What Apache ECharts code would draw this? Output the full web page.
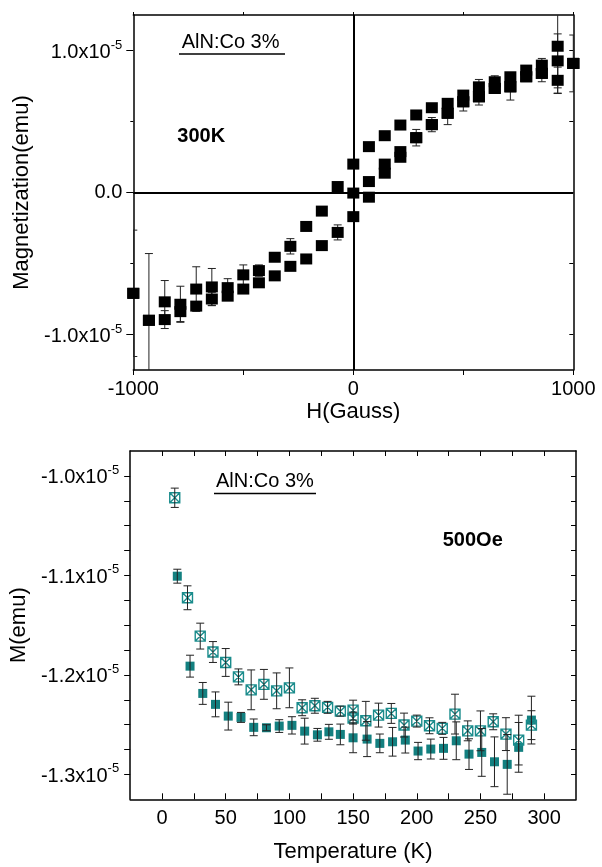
<!DOCTYPE html>
<html>
<head>
<meta charset="utf-8">
<script src="https://cdn.jsdelivr.net/npm/echarts@6/dist/echarts.min.js"></script>
<style>
  html, body { margin: 0; padding: 0; background: #fff; }
  #main { width: 602px; height: 867px; }
</style>
</head>
<body>
<div id="main"></div>
<script>
// magnetization values are in units of 1e-5 emu

// top panel: hysteresis at 300K
var fieldH = [-1000, -929, -857, -786, -714, -643, -571, -500, -429, -357, -286, -214, -143, -71, 0,
  71, 143, 214, 286, 357, 429, 500, 571, 643, 714, 786, 857, 929, 1000];
var mDown = [-0.71, -0.90, -0.77, -0.787, -0.68, -0.665, -0.67, -0.58, -0.55, -0.456, -0.379, -0.239, -0.131, 0.042, 0.20,
  0.323, 0.40, 0.475, 0.546, 0.597, 0.628, 0.686, 0.744, 0.78, 0.815, 0.862, 0.897, 1.03, 0.909];
var errDown = [0.445, 0.47, 0.15, 0.127, 0.157, 0.13, 0.063, 0.07, 0.04, 0, 0.054, 0, 0, 0, 0,
  0, 0, 0, 0, 0, 0, 0, 0.052, 0.042, 0, 0, 0.047, 0.33, 0.2];
var mUp = [-0.71, -0.90, -0.895, -0.839, -0.80, -0.75, -0.73, -0.68, -0.636, -0.587, -0.52, -0.468, -0.374, -0.281, -0.17,
  -0.033, 0.136, 0.248, 0.386, 0.478, 0.558, 0.639, 0.674, 0.733, 0.744, 0.815, 0.839, 0.79, 0.909];
var errUp = [0, 0, 0.063, 0.07, 0, 0.047, 0, 0, 0, 0, 0, 0, 0, 0.053, 0,
  0, 0, 0, 0.058, 0.05, 0.08, 0.065, 0.058, 0, 0.093, 0, 0.059, 0.093, 0];
var fieldInit = [0, 71, 143, 214, 286, 357, 429, 500, 571, 643, 714, 786, 857, 929, 1000];
var mInit = [-0.004, 0.077, 0.20, 0.288, 0.386, 0.478, 0.558, 0.639, 0.674, 0.733, 0.744, 0.815, 0.839, 0.927, 0.909];
var errInit = [0, 0, 0, 0, 0, 0, 0, 0, 0, 0, 0, 0, 0, 0.19, 0];

var hTicks = [-1000, -500, 0, 500, 1000];
var hLabels = [-1000, 0, 1000];
var mTicks = [-1, 0, 1];
var mMinorTicks = [-0.5, 0.5];

// bottom panel: M(T) at 500 Oe
var tSquare = [12, 22, 32, 42, 52, 62, 72, 82, 92, 102, 112, 122, 131, 140, 150, 161, 171, 181, 191, 201,
  211, 221, 231, 241, 251, 261, 271, 280, 290];
var mSquare = [-1.1008, -1.1912, -1.2186, -1.2296, -1.2414, -1.2427, -1.2527, -1.2531, -1.2514, -1.2507,
  -1.2565, -1.2602, -1.2572, -1.2598, -1.2632, -1.2645, -1.2688, -1.2672, -1.2655, -1.2765,
  -1.2745, -1.2738, -1.2662, -1.2796, -1.2779, -1.2873, -1.2899, -1.2728, -1.2454];
var errSquare = [0.007, 0.011, 0.011, 0.0125, 0.014, 0.005, 0.0084, 0.003, 0.0064, 0.0087,
  0.013, 0.0064, 0.0075, 0.0104, 0.015, 0.0176, 0.0094, 0.0144, 0.013, 0.0087,
  0.01, 0.011, 0.019, 0.0154, 0.024, 0.025, 0.030, 0.025, 0.024];
var tCross = [10, 20, 30, 40, 50, 60, 70, 80, 90, 100, 110, 120, 130, 140, 150, 150, 160, 170, 180, 190,
  200, 210, 220, 230, 240, 250, 260, 270, 280, 290];
var mCross = [-1.022, -1.1225, -1.161, -1.177, -1.1875, -1.202, -1.215, -1.2095, -1.216, -1.213,
  -1.233, -1.231, -1.2326, -1.2364, -1.2354, -1.2434, -1.2461, -1.2404, -1.2387, -1.2504,
  -1.2464, -1.2511, -1.2537, -1.2394, -1.2562, -1.2562, -1.2471, -1.2595, -1.2655, -1.2505];
var errCross = [0.0097, 0.012, 0.013, 0.0105, 0.014, 0.008, 0.02, 0.015, 0.018, 0.02,
  0.008, 0.0075, 0.006, 0.005, 0.01, 0.006, 0.0195, 0.012, 0.01, 0.012,
  0.006, 0.008, 0.006, 0.02, 0.01, 0.02, 0.008, 0.0165, 0.025, 0.0145];

var tTicks = [0, 25, 50, 75, 100, 125, 150, 175, 200, 225, 250, 275, 300];
var tLabels = [0, 50, 100, 150, 200, 250, 300];
var mtTicks = [-1.3, -1.275, -1.25, -1.225, -1.2, -1.175, -1.15, -1.125, -1.1, -1.075, -1.05, -1.025, -1.0];
var mtLabels = [-1.3, -1.2, -1.1, -1.0];

var FONT = "'Liberation Sans', Arial, sans-serif";
var TEAL = '#138080';
var CROSS = 'path://M0,0L10,10M10,0L0,10M0,0L10,0L10,10L0,10Z';

function zip(xs, ys, es) {
  return xs.map(function (x, i) { return es ? [x, ys[i], es[i]] : [x, ys[i]]; });
}

function plain(v) { return String(v); }

function sciLabel(v) {
  if (Math.abs(v) < 1e-9) return '0.0';
  return '{m|' + v.toFixed(1) + 'x10}{s|-5}';
}
var sciRich = {
  m: { fontSize: 20, lineHeight: 24, verticalAlign: 'bottom', color: '#000', fontFamily: FONT },
  s: { fontSize: 13, lineHeight: 13, verticalAlign: 'top', color: '#000', fontFamily: FONT }
};

function errRender(color) {
  return function (params, api) {
    var x = api.value(0), y = api.value(1), e = api.value(2);
    if (!e) return null;
    var a = api.coord([x, y + e]), b = api.coord([x, y - e]);
    var w = 4;
    var st = { stroke: color, lineWidth: 1 };
    return {
      type: 'group',
      children: [
        { type: 'line', shape: { x1: a[0], y1: a[1], x2: b[0], y2: b[1] }, style: st },
        { type: 'line', shape: { x1: a[0] - w, y1: a[1], x2: a[0] + w, y2: a[1] }, style: st },
        { type: 'line', shape: { x1: b[0] - w, y1: b[1], x2: b[0] + w, y2: b[1] }, style: st }
      ]
    };
  };
}

function frame(show) {
  return { show: show, onZero: false, lineStyle: { color: '#000', width: 1.5 } };
}

var chart = echarts.init(document.getElementById('main'), null, { renderer: 'canvas' });

var option = {
  animation: false,
  backgroundColor: '#fff',
  textStyle: { fontFamily: FONT, color: '#000' },
  grid: [
    { left: 133.3, top: 15, width: 440, height: 355 },
    { left: 129.3, top: 451, width: 446.7, height: 348.3 }
  ],
  xAxis: [
    {
      gridIndex: 0, type: 'value', min: -1000, max: 1000, position: 'bottom',
      axisLine: frame(true),
      axisTick: { show: true, customValues: hTicks, length: 5, lineStyle: { color: '#000' } },
      axisLabel: { customValues: hLabels, formatter: plain, fontSize: 20, margin: 9, color: '#000' },
      splitLine: { show: false },
      name: 'H(Gauss)', nameLocation: 'middle', nameGap: 31,
      nameTextStyle: { fontSize: 22, color: '#000' }
    },
    {
      gridIndex: 0, type: 'value', min: -1000, max: 1000, position: 'top',
      axisLine: frame(true),
      axisTick: { show: true, customValues: hTicks, length: 3, lineStyle: { color: '#000' } },
      axisLabel: { show: false }, splitLine: { show: false }
    },
    {
      gridIndex: 1, type: 'value', min: -25, max: 325, position: 'bottom',
      axisLine: frame(true),
      axisTick: { show: true, inside: true, customValues: tTicks, length: 6, lineStyle: { color: '#000' } },
      axisLabel: { customValues: tLabels, formatter: plain, fontSize: 20, margin: 9, color: '#000' },
      splitLine: { show: false },
      name: 'Temperature (K)', nameLocation: 'middle', nameGap: 42,
      nameTextStyle: { fontSize: 22, color: '#000' }
    },
    {
      gridIndex: 1, type: 'value', min: -25, max: 325, position: 'top',
      axisLine: frame(true),
      axisTick: { show: true, inside: true, customValues: tTicks, length: 5, lineStyle: { color: '#000' } },
      axisLabel: { show: false }, splitLine: { show: false }
    }
  ],
  yAxis: [
    {
      gridIndex: 0, type: 'value', min: -1.25, max: 1.25, position: 'left',
      axisLine: frame(true),
      axisTick: { show: true, customValues: mTicks, length: 7, lineStyle: { color: '#000' } },
      axisLabel: { customValues: mTicks, formatter: sciLabel, rich: sciRich, fontSize: 20, margin: 11, color: '#000' },
      splitLine: { show: false },
      name: 'Magnetization(emu)', nameLocation: 'middle', nameGap: 90,
      nameTextStyle: { fontSize: 22, color: '#000' }
    },
    {
      gridIndex: 0, type: 'value', min: -1.25, max: 1.25, position: 'left',
      axisLine: { show: false, onZero: false },
      axisTick: { show: true, customValues: mMinorTicks, length: 3, lineStyle: { color: '#000' } },
      axisLabel: { show: false }, splitLine: { show: false }
    },
    {
      gridIndex: 0, type: 'value', min: -1.25, max: 1.25, position: 'right',
      axisLine: frame(true),
      axisTick: { show: true, inside: true, customValues: mTicks.concat(mMinorTicks), length: 4, lineStyle: { color: '#000' } },
      axisLabel: { show: false }, splitLine: { show: false }
    },
    {
      gridIndex: 1, type: 'value', min: -1.325, max: -0.975, position: 'left',
      axisLine: frame(true),
      axisTick: { show: true, customValues: mtTicks, length: 6, lineStyle: { color: '#000' } },
      axisLabel: { customValues: mtLabels, formatter: sciLabel, rich: sciRich, fontSize: 20, margin: 11, color: '#000' },
      splitLine: { show: false },
      name: 'M(emu)', nameLocation: 'middle', nameGap: 95,
      nameTextStyle: { fontSize: 22, color: '#000' }
    },
    {
      gridIndex: 1, type: 'value', min: -1.325, max: -0.975, position: 'right',
      axisLine: frame(true),
      axisTick: { show: true, inside: true, customValues: mtTicks, length: 5, lineStyle: { color: '#000' } },
      axisLabel: { show: false }, splitLine: { show: false }
    }
  ],
  graphic: [
    { type: 'text', left: 181.7, top: 32, style: { text: 'AlN:Co 3%', fontSize: 20, fontFamily: FONT, fill: '#000' } },
    { type: 'line', shape: { x1: 179, y1: 54, x2: 285, y2: 54 }, style: { stroke: '#000', lineWidth: 1.5 } },
    { type: 'text', left: 177.3, top: 126, style: { text: '300K', fontSize: 20, fontWeight: 'bold', fontFamily: FONT, fill: '#000' } },
    { type: 'text', left: 216, top: 471, style: { text: 'AlN:Co 3%', fontSize: 20, fontFamily: FONT, fill: '#000' } },
    { type: 'line', shape: { x1: 214, y1: 493.5, x2: 316, y2: 493.5 }, style: { stroke: '#000', lineWidth: 1.5 } },
    { type: 'text', left: 442.7, top: 530, style: { text: '500Oe', fontSize: 20, fontWeight: 'bold', fontFamily: FONT, fill: '#000' } }
  ],
  series: [
    {
      type: 'custom', name: 'errDown', xAxisIndex: 0, yAxisIndex: 0, clip: true, z: 2,
      renderItem: errRender('#222'), encode: { x: 0, y: 1 },
      data: zip(fieldH, mDown, errDown)
    },
    {
      type: 'custom', name: 'errUp', xAxisIndex: 0, yAxisIndex: 0, clip: true, z: 2,
      renderItem: errRender('#222'), encode: { x: 0, y: 1 },
      data: zip(fieldH, mUp, errUp)
    },
    {
      type: 'custom', name: 'errInit', xAxisIndex: 0, yAxisIndex: 0, clip: true, z: 2,
      renderItem: errRender('#222'), encode: { x: 0, y: 1 },
      data: zip(fieldInit, mInit, errInit)
    },
    {
      type: 'scatter', name: 'down', xAxisIndex: 0, yAxisIndex: 0, z: 3,
      symbol: 'rect', symbolSize: [12, 11], itemStyle: { color: '#000', opacity: 1 },
      data: zip(fieldH, mDown),
      markLine: {
        silent: true, symbol: 'none', label: { show: false },
        lineStyle: { color: '#000', width: 2, type: 'solid' },
        data: [{ xAxis: 0 }, { yAxis: 0 }]
      }
    },
    {
      type: 'scatter', name: 'up', xAxisIndex: 0, yAxisIndex: 0, z: 3,
      symbol: 'rect', symbolSize: [12, 11], itemStyle: { color: '#000', opacity: 1 },
      data: zip(fieldH, mUp)
    },
    {
      type: 'scatter', name: 'initial', xAxisIndex: 0, yAxisIndex: 0, z: 3,
      symbol: 'rect', symbolSize: [12, 11], itemStyle: { color: '#000', opacity: 1 },
      data: zip(fieldInit, mInit)
    },
    {
      type: 'scatter', name: 'squares', xAxisIndex: 2, yAxisIndex: 3, z: 3,
      symbol: 'rect', symbolSize: 9, itemStyle: { color: TEAL, opacity: 1 },
      data: zip(tSquare, mSquare)
    },
    {
      type: 'scatter', name: 'crosses', xAxisIndex: 2, yAxisIndex: 3, z: 3,
      symbol: CROSS, symbolSize: 10,
      itemStyle: { color: 'rgba(0,0,0,0)', borderColor: '#1a8c8c', borderWidth: 1.4, opacity: 1 },
      data: zip(tCross, mCross)
    },
    {
      type: 'custom', name: 'errSquare', xAxisIndex: 2, yAxisIndex: 3, clip: true, z: 4,
      renderItem: errRender('#222'), encode: { x: 0, y: 1 },
      data: zip(tSquare, mSquare, errSquare)
    },
    {
      type: 'custom', name: 'errCross', xAxisIndex: 2, yAxisIndex: 3, clip: true, z: 4,
      renderItem: errRender('#222'), encode: { x: 0, y: 1 },
      data: zip(tCross, mCross, errCross)
    }
  ]
};

chart.setOption(option);
</script>
</body>
</html>
